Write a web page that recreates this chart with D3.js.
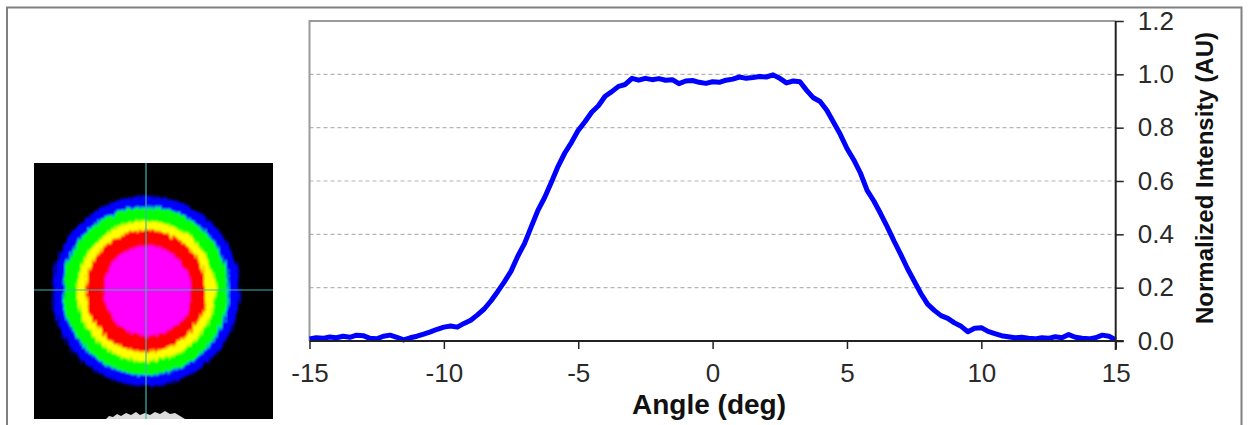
<!DOCTYPE html>
<html>
<head>
<meta charset="utf-8">
<style>
  body { margin: 0; background: #fff; }
  svg { display: block; }
  text { font-family: "Liberation Sans", Arial, sans-serif; }
</style>
</head>
<body>
<script src="https://d3js.org/d3.v7.min.js"></script>
<script>

// angular intensity profile
var angle = [
  -15, -14.75, -14.5, -14.25, -14, -13.75, -13.5, -13.25, -13, -12.75, -12.5, -12.25,
  -12, -11.75, -11.5, -11.25, -11, -10.75, -10.5, -10.25, -10, -9.75, -9.5, -9.25,
  -9, -8.75, -8.5, -8.25, -8, -7.75, -7.5, -7.25, -7, -6.75, -6.5, -6.25,
  -6, -5.75, -5.5, -5.25, -5, -4.75, -4.5, -4.25, -4, -3.75, -3.5, -3.25,
  -3, -2.75, -2.5, -2.25, -2, -1.75, -1.5, -1.25, -1, -0.75, -0.5, -0.25,
  0, 0.25, 0.5, 0.75, 1, 1.25, 1.5, 1.75, 2, 2.25, 2.5, 2.75,
  3, 3.25, 3.5, 3.75, 4, 4.25, 4.5, 4.75, 5, 5.25, 5.5, 5.75,
  6, 6.25, 6.5, 6.75, 7, 7.25, 7.5, 7.75, 8, 8.25, 8.5, 8.75,
  9, 9.25, 9.5, 9.75, 10, 10.25, 10.5, 10.75, 11, 11.25, 11.5, 11.75,
  12, 12.25, 12.5, 12.75, 13, 13.25, 13.5, 13.75, 14, 14.25, 14.5, 14.75, 15
];
var intensity = [
  0.008, 0.012, 0.010, 0.015, 0.012, 0.018, 0.014, 0.022, 0.020, 0.010, 0.008, 0.018,
  0.022, 0.014, 0.004, 0.012, 0.018, 0.026, 0.034, 0.044, 0.052, 0.056, 0.052, 0.066,
  0.078, 0.098, 0.120, 0.150, 0.185, 0.222, 0.262, 0.318, 0.365, 0.428, 0.490, 0.538,
  0.595, 0.655, 0.705, 0.745, 0.790, 0.822, 0.858, 0.882, 0.918, 0.935, 0.955, 0.962,
  0.985, 0.978, 0.985, 0.980, 0.984, 0.978, 0.980, 0.965, 0.975, 0.977, 0.970, 0.966,
  0.972, 0.970, 0.978, 0.982, 0.990, 0.985, 0.988, 0.992, 0.990, 0.998, 0.985, 0.968,
  0.975, 0.972, 0.940, 0.912, 0.898, 0.865, 0.820, 0.775, 0.722, 0.680, 0.630, 0.565,
  0.525, 0.478, 0.428, 0.375, 0.325, 0.272, 0.225, 0.178, 0.138, 0.115, 0.095, 0.085,
  0.068, 0.055, 0.035, 0.048, 0.050, 0.036, 0.028, 0.020, 0.016, 0.012, 0.014, 0.010,
  0.008, 0.012, 0.010, 0.016, 0.012, 0.024, 0.014, 0.010, 0.008, 0.012, 0.022, 0.018, 0.004
];
var xTicks = [-15, -10, -5, 0, 5, 10, 15];
var yTicks = [0, 0.2, 0.4, 0.6, 0.8, 1.0, 1.2];

// beam-profile false colour bands, outer to inner
var bandColors = ["#0000ff", "#00ff00", "#ffff00", "#ff0000", "#ff00ff"];
var bandRadii  = [94, 83, 69, 60, 44];

var svg = d3.select("body").append("svg")
    .attr("width", 1250)
    .attr("height", 425);

// outer frame
svg.append("path")
    .attr("d", "M7,425V7.5H1241.5V425")
    .attr("fill", "none")
    .attr("stroke", "#808080")
    .attr("stroke-width", 2);

// ---- beam image ----
var defs = svg.append("defs");
var f = defs.append("filter").attr("id", "rough")
    .attr("x", "-10%").attr("y", "-10%").attr("width", "120%").attr("height", "120%");
f.append("feTurbulence")
    .attr("type", "fractalNoise")
    .attr("baseFrequency", "0.6 0.04")
    .attr("numOctaves", 2)
    .attr("seed", 3)
    .attr("result", "noise");
f.append("feDisplacementMap")
    .attr("in", "SourceGraphic").attr("in2", "noise")
    .attr("scale", 9)
    .attr("xChannelSelector", "R").attr("yChannelSelector", "G")
    .attr("result", "disp");
f.append("feGaussianBlur").attr("in", "disp").attr("stdDeviation", 0.8);

var img = svg.append("g");
img.append("rect")
    .attr("x", 34).attr("y", 163)
    .attr("width", 239).attr("height", 256)
    .attr("fill", "#000");

var cx = 146, cy = 291;
img.append("g").attr("filter", "url(#rough)")
  .selectAll("ellipse")
  .data(bandColors)
  .enter().append("ellipse")
    .attr("cx", (d, i) => i == 4 ? cx + 1.5 : cx)
    .attr("cy", cy)
    .attr("rx", (d, i) => bandRadii[i])
    .attr("ry", (d, i) => bandRadii[i] + 1)
    .attr("fill", d => d);

// faint trace at the bottom of the camera image
img.append("path")
    .attr("d", "M106,419L109,416L113,417L117,414L121,416L126,413L131,415L136,412L140,415L145,413L150,415L155,412L160,414L165,411L170,414L175,413L180,416L185,419Z")
    .attr("fill", "#dcdcdc");

img.append("line")
    .attr("x1", cx).attr("x2", cx).attr("y1", 163).attr("y2", 419)
    .attr("stroke", "#3cb8b0").attr("stroke-width", 1.2);
img.append("line")
    .attr("x1", 34).attr("x2", 273).attr("y1", 290).attr("y2", 290)
    .attr("stroke", "#3cb8b0").attr("stroke-width", 1.2);

// ---- chart ----
var x = d3.scaleLinear().domain([-15, 15]).range([309.5, 1115.7]);
var y = d3.scaleLinear().domain([0, 1.2]).range([341, 21]);

// grid
svg.append("g").selectAll("line")
    .data(yTicks.filter(d => d > 0 && d < 1.2))
  .enter().append("line")
    .attr("x1", x(-15)).attr("x2", x(15))
    .attr("y1", d => y(d)).attr("y2", d => y(d))
    .attr("stroke", "#b4b4b4")
    .attr("stroke-width", 1.2)
    .attr("stroke-dasharray", "4,3");

// plot frame: left + top
svg.append("path")
    .attr("d", "M" + x(-15) + "," + y(0) + "V" + y(1.2) + "H" + x(15))
    .attr("fill", "none")
    .attr("stroke", "#9a9a9a")
    .attr("stroke-width", 2);

// curve
var pts = angle.map((a, i) => [a, intensity[i]]);
svg.append("path")
    .datum(pts)
    .attr("d", d3.line().x(d => x(d[0])).y(d => y(d[1])))
    .attr("fill", "none")
    .attr("stroke", "#0000ff")
    .attr("stroke-width", 5)
    .attr("stroke-linejoin", "round");

// bottom axis
var xAxis = svg.append("g")
    .attr("transform", "translate(0," + y(0) + ")")
    .call(d3.axisBottom(x).tickValues(xTicks).tickSize(8).tickPadding(15).tickSizeOuter(0)
      .tickFormat(d => String(d)));
xAxis.select(".domain").attr("d", "M" + x(-15) + ",0H" + (x(15) + 8));

// right axis
var yAxis = svg.append("g")
    .attr("transform", "translate(" + x(15) + ",0)")
    .call(d3.axisRight(y).tickValues(yTicks).tickSize(8).tickPadding(14).tickSizeOuter(0)
      .tickFormat(d => d.toFixed(1)));
yAxis.select(".domain").attr("d", "M0," + y(1.2) + "V" + (y(0) + 9));

svg.selectAll(".tick line").attr("stroke", "#222").attr("stroke-width", 1.5);
svg.selectAll(".domain").attr("stroke", "#222").attr("stroke-width", 2);
svg.selectAll(".tick text")
    .attr("font-family", "'Liberation Sans', Arial, sans-serif")
    .attr("font-size", 26)
    .attr("fill", "#2a2a2a");

// axis titles
svg.append("text")
    .attr("x", 709).attr("y", 414)
    .attr("text-anchor", "middle")
    .attr("font-size", 28)
    .attr("font-weight", "bold")
    .attr("fill", "#111")
    .text("Angle (deg)");

svg.append("text")
    .attr("transform", "translate(1213,178) rotate(-90)")
    .attr("text-anchor", "middle")
    .attr("font-size", 24)
    .attr("font-weight", "bold")
    .attr("fill", "#111")
    .text("Normalized Intensity (AU)");

</script>
</body>
</html>
